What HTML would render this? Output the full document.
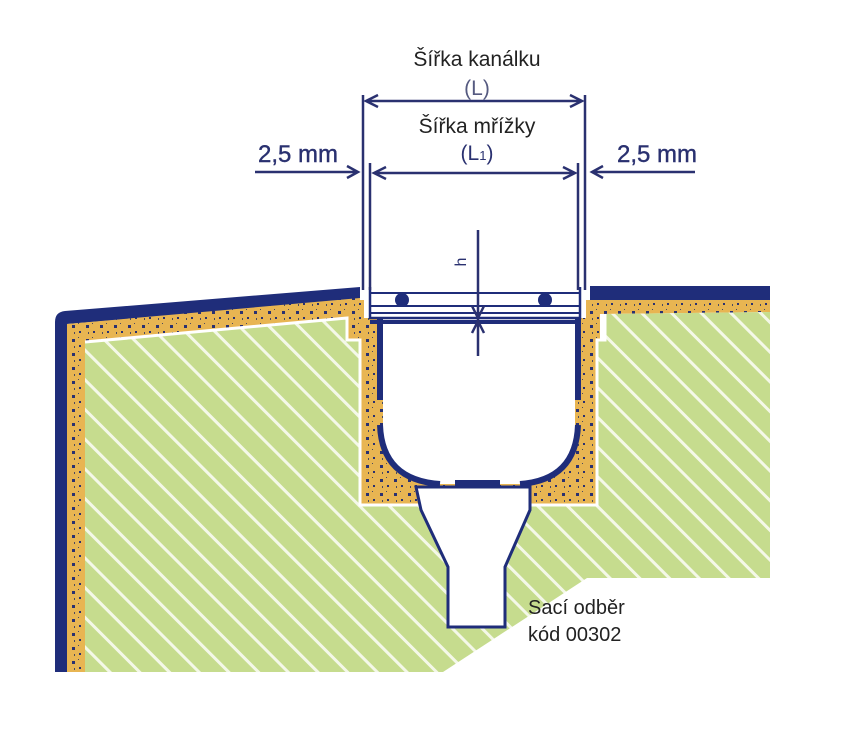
<!DOCTYPE html>
<html><head><meta charset="utf-8"><style>
html,body{margin:0;padding:0;background:#fff;width:848px;height:738px;overflow:hidden}
</style></head><body>
<svg width="848" height="738" viewBox="0 0 848 738" xmlns="http://www.w3.org/2000/svg">
<defs>
<pattern id="hatch" width="21" height="21" patternUnits="userSpaceOnUse" patternTransform="rotate(-45)">
<rect width="21" height="21" fill="#c6dc8e"/>
<rect x="0" y="0" width="3" height="21" fill="#f4f8e8"/>
</pattern>
<pattern id="sand" width="14" height="14" patternUnits="userSpaceOnUse">
<rect width="14" height="14" fill="#e8b552"/>
<rect x="2" y="3" width="3" height="3" fill="#2a3170"/>
<rect x="9" y="9" width="2" height="2" fill="#2a3170"/>
<rect x="8" y="1" width="1" height="1" fill="#4a4a60"/>
<rect x="4" y="10" width="1" height="2" fill="#4a4a60"/>
</pattern>
</defs>
<path d="M55,322 Q55,312 65,311 L360,287 L360,300 L67,324 L67,672 L55,672 Z" fill="#1f2d7a"/>
<rect x="590" y="286" width="180" height="14" fill="#1f2d7a"/>
<path d="M67,324 L360,298 L360,312 L357,505 L600,505 L600,300 L770,300 L770,312 L600,314 L600,340 L593,340 L593,505 L357,505 L357,340 L347,340 L347,318 L85,342 L85,672 L67,672 Z" fill="url(#sand)"/>
<rect x="357" y="300" width="243" height="205" fill="url(#sand)"/>
<path d="M85,342 L347,318 L347,340 L360,340 L360,505 L597,505 L597,340 L605,340 L605,314 L770,312 L770,578 L587,578 L443,672 L85,672 Z" fill="url(#hatch)"/>
<path d="M85,342 L347,318 L347,340 L360,340 L360,505 L597,505 L597,340 L605,340 L605,314" fill="none" stroke="#fff" stroke-width="3"/>
<path d="M383,318 L575,318 L575,430 Q575,482 520,484 L440,484 Q383,482 383,430 Z" fill="#fff"/>
<path d="M380,317 L380,400 M578,317 L578,400" stroke="#1f2d7a" stroke-width="6" fill="none"/>
<path d="M380,425 Q382,480 440,484 M578,425 Q576,480 520,484" stroke="#1f2d7a" stroke-width="6" fill="none"/>
<rect x="455" y="480" width="45" height="7" fill="#1f2d7a"/>
<path d="M416,487 L530,487 L530,510 L505,567 L505,627 L448,627 L448,567 L421,510 Z" fill="#fff" stroke="#1f2d7a" stroke-width="3"/>
<rect x="364" y="287" width="222" height="31" fill="#fff"/>
<path d="M370,287 L370,318 L580,318 L580,287" fill="none" stroke="#1f2d7a" stroke-width="2.5"/>
<path d="M370,306 L580,306 M370,293 L580,293 M370,313 L580,313" stroke="#1f2d7a" stroke-width="2"/>
<circle cx="402" cy="300" r="7" fill="#1f2d7a"/>
<circle cx="545" cy="300" r="7" fill="#1f2d7a"/>
<rect x="370" y="320" width="210" height="4" fill="#1f2d7a"/>
<g stroke="#2a3170" stroke-width="2.5" fill="none">
<path d="M363,95 L363,290 M585,95 L585,290"/>
<path d="M370,163 L370,290 M578,163 L578,290"/>
<path d="M366,101 L582,101 M378,95 L366,101 L378,107 M570,95 L582,101 L570,107"/>
<path d="M374,173 L575,173 M386,167 L374,173 L386,179 M563,167 L575,173 L563,179"/>
<path d="M255,172 L358,172 M347,166 L358,172 L347,178"/>
<path d="M592,172 L695,172 M603,166 L592,172 L603,178"/>
<path d="M478,230 L478,356 M472,306 L478,318 L484,306 M472,333 L478,321 L484,333"/>
</g>
<g font-family="Liberation Sans, sans-serif" fill="#222">
<text x="477" y="66" font-size="21" text-anchor="middle">Šířka kanálku</text>
<text x="477" y="133" font-size="21" text-anchor="middle">Šířka mřížky</text>
<text x="528" y="614" font-size="20">Sací odběr</text>
<text x="528" y="641" font-size="20">kód 00302</text>
</g>
<g font-family="Liberation Sans Narrow, Liberation Sans, sans-serif" fill="#2a3170" font-size="21">
<text x="477" y="95" text-anchor="middle" fill="#555a80">(L)</text>
<text x="477" y="160" text-anchor="middle">(L<tspan font-size="13">1</tspan>)</text>
<text x="258" y="162" font-size="24" stroke="#2a3170" stroke-width="0.4">2,5 mm</text>
<text x="617" y="162" font-size="24" stroke="#2a3170" stroke-width="0.4">2,5 mm</text>
<text x="0" y="0" font-size="16" transform="translate(466,262) rotate(-90)" text-anchor="middle">h</text>
</g>
</svg>
</body></html>
